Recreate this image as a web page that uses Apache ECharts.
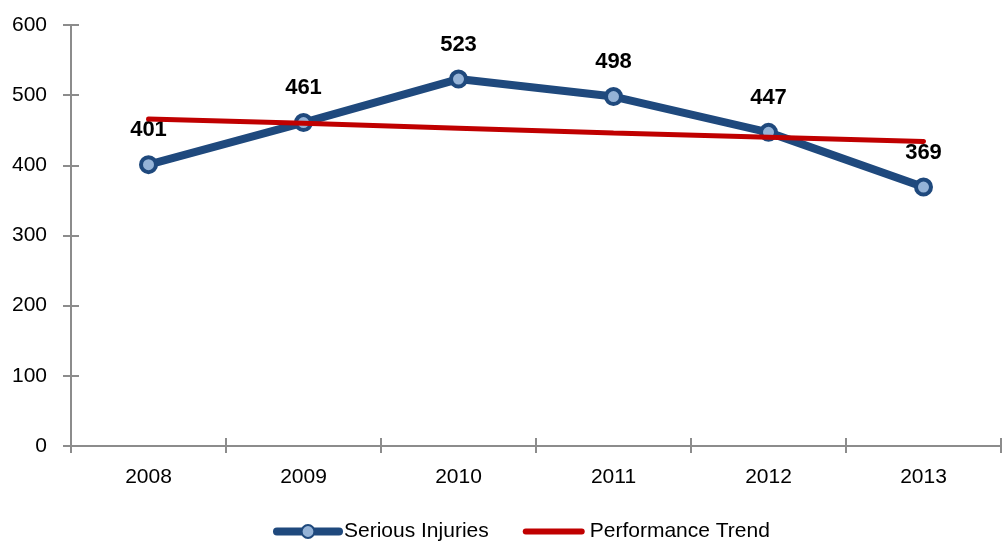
<!DOCTYPE html>
<html>
<head>
<meta charset="utf-8">
<script src="https://cdn.jsdelivr.net/npm/echarts@6/dist/echarts.min.js"></script>
<style>
  html, body { margin: 0; padding: 0; background: #fff; }
  #main { width: 1002px; height: 544px; }
</style>
</head>
<body>
<div id="main"></div>
<script>
const years = ['2008', '2009', '2010', '2011', '2012', '2013'];
const seriousInjuries = [401, 461, 523, 498, 447, 369];
const performanceTrend = [466, 460, 453, 446, 440, 434];

const FONT = '"Liberation Sans", Arial, sans-serif';
const axisGray = '#8c8c8c';

const chart = echarts.init(document.getElementById('main'));

// two copies of each axis so the ticks cross the axis line
const xBase = {
  type: 'category',
  position: 'bottom',
  data: years,
  axisLine: { lineStyle: { color: axisGray, width: 2 } },
  splitLine: { show: false }
};
const yBase = {
  type: 'value',
  position: 'left',
  min: 0,
  max: 600,
  interval: 100,
  axisLine: { show: true, onZero: false, lineStyle: { color: axisGray, width: 2 } },
  splitLine: { show: false }
};

chart.setOption({
  animation: false,
  textStyle: { fontFamily: FONT },
  grid: { left: 71, right: 1, top: 25, bottom: 98 },
  legend: {
    bottom: -3,
    left: 268,
    itemWidth: 62,
    itemHeight: 16,
    itemGap: 34,
    textStyle: { fontFamily: FONT, fontSize: 21, color: '#000' },
    data: [
      { name: 'Serious Injuries', lineStyle: { width: 8, cap: 'round' } },
      { name: 'Performance Trend', icon: 'path://M3,0 L59,0 A3,3 0 0 1 59,6 L3,6 A3,3 0 0 1 3,0 Z', itemStyle: { color: '#c00000' } }
    ]
  },
  xAxis: [
    Object.assign({}, xBase, {
      axisTick: { show: true, inside: false, length: 7, lineStyle: { color: axisGray, width: 2 } },
      axisLabel: { fontFamily: FONT, fontSize: 21, color: '#000', margin: 21 }
    }),
    Object.assign({}, xBase, {
      axisTick: { show: true, inside: true, length: 8, lineStyle: { color: axisGray, width: 2 } },
      axisLabel: { show: false }
    })
  ],
  yAxis: [
    Object.assign({}, yBase, {
      axisTick: { show: true, inside: false, length: 8, lineStyle: { color: axisGray, width: 2 } },
      axisLabel: { fontFamily: FONT, fontSize: 21, color: '#000', margin: 24 }
    }),
    Object.assign({}, yBase, {
      axisTick: { show: true, inside: true, length: 8, lineStyle: { color: axisGray, width: 2 } },
      axisLabel: { show: false }
    })
  ],
  series: [
    {
      name: 'Serious Injuries',
      type: 'line',
      data: seriousInjuries,
      symbol: 'circle',
      symbolSize: 15,
      lineStyle: { color: '#1f497d', width: 8, cap: 'round', join: 'round' },
      itemStyle: { color: '#95b3d7', borderColor: '#1f497d', borderWidth: 4 },
      label: {
        show: true,
        position: 'top',
        distance: 14,
        fontFamily: FONT,
        fontSize: 22,
        fontWeight: 'bold',
        color: '#000'
      },
      z: 2
    },
    {
      name: 'Performance Trend',
      type: 'line',
      data: performanceTrend,
      symbol: 'none',
      lineStyle: { color: '#c00000', width: 5, cap: 'round' },
      itemStyle: { color: '#c00000' },
      z: 3
    }
  ]
});
</script>
</body>
</html>
